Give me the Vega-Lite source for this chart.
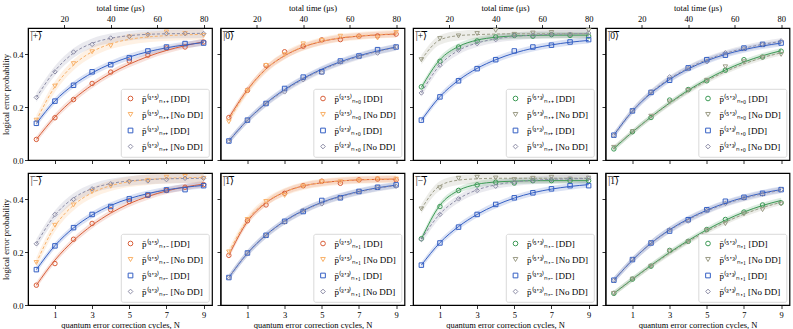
{
"$schema":"https://vega.github.io/schema/vega-lite/v6.json",
"padding":{"left":0,"top":2,"right":0,"bottom":0},
"config":{
 "font":"Liberation Serif",
 "view":{"stroke":"#000","strokeWidth":1.2},
 "axis":{"grid":false,"domainColor":"#000","domainWidth":1,"tickColor":"#000","tickSize":3.5,"tickWidth":0.8,"labelColor":"#000","labelFontSize":8.5,"labelFont":"Liberation Serif","labelPadding":1.5,"titleColor":"#000","titleFont":"Liberation Serif","titleFontSize":8.5,"titleFontWeight":"normal","titlePadding":2,"labelFlush":false,"labelOverlap":false},
 "legend":{"orient":"bottom-right","offset":3,"fillColor":"#fff","strokeColor":"#d0d0d0","strokeWidth":0.8,"cornerRadius":2,"padding":5,"labelFont":"Liberation Serif","labelFontSize":9,"labelColor":"#000","symbolSize":22,"symbolStrokeWidth":1,"rowPadding":6,"labelLimit":200,"labelOffset":7},
 "text":{"font":"Liberation Serif"}
},
"data":{"values":[
{"P":1,"s":"a","N":0,"p":0.078,"f":0.078,"lo":0.066,"hi":0.09},
{"P":1,"s":"a","N":1,"p":0.16,"f":0.163,"lo":0.151,"hi":0.175},
{"P":1,"s":"a","N":2,"p":0.229,"f":0.23,"lo":0.218,"hi":0.242},
{"P":1,"s":"a","N":3,"p":0.29,"f":0.284,"lo":0.272,"hi":0.296},
{"P":1,"s":"a","N":4,"p":0.333,"f":0.328,"lo":0.316,"hi":0.34},
{"P":1,"s":"a","N":5,"p":0.375,"f":0.363,"lo":0.351,"hi":0.375},
{"P":1,"s":"a","N":6,"p":0.397,"f":0.392,"lo":0.38,"hi":0.404},
{"P":1,"s":"a","N":7,"p":0.424,"f":0.415,"lo":0.403,"hi":0.427},
{"P":1,"s":"a","N":8,"p":0.428,"f":0.433,"lo":0.421,"hi":0.445},
{"P":1,"s":"a","N":9,"p":0.447,"f":0.448,"lo":0.436,"hi":0.46},
{"P":1,"s":"b","N":0,"p":0.151,"f":0.15,"lo":0.13,"hi":0.17},
{"P":1,"s":"b","N":1,"p":0.28,"f":0.278,"lo":0.258,"hi":0.298},
{"P":1,"s":"b","N":2,"p":0.365,"f":0.36,"lo":0.34,"hi":0.38},
{"P":1,"s":"b","N":3,"p":0.41,"f":0.41,"lo":0.39,"hi":0.43},
{"P":1,"s":"b","N":4,"p":0.433,"f":0.44,"lo":0.42,"hi":0.46},
{"P":1,"s":"b","N":5,"p":0.466,"f":0.457,"lo":0.437,"hi":0.477},
{"P":1,"s":"b","N":6,"p":0.472,"f":0.466,"lo":0.446,"hi":0.486},
{"P":1,"s":"b","N":7,"p":0.485,"f":0.471,"lo":0.451,"hi":0.491},
{"P":1,"s":"b","N":8,"p":0.479,"f":0.474,"lo":0.454,"hi":0.494},
{"P":1,"s":"b","N":9,"p":0.472,"f":0.476,"lo":0.456,"hi":0.496},
{"P":1,"s":"c","N":0,"p":0.139,"f":0.138,"lo":0.126,"hi":0.15},
{"P":1,"s":"c","N":1,"p":0.223,"f":0.224,"lo":0.212,"hi":0.236},
{"P":1,"s":"c","N":2,"p":0.283,"f":0.285,"lo":0.273,"hi":0.297},
{"P":1,"s":"c","N":3,"p":0.334,"f":0.33,"lo":0.318,"hi":0.342},
{"P":1,"s":"c","N":4,"p":0.361,"f":0.364,"lo":0.352,"hi":0.376},
{"P":1,"s":"c","N":5,"p":0.387,"f":0.39,"lo":0.378,"hi":0.402},
{"P":1,"s":"c","N":6,"p":0.413,"f":0.41,"lo":0.398,"hi":0.422},
{"P":1,"s":"c","N":7,"p":0.428,"f":0.425,"lo":0.413,"hi":0.437},
{"P":1,"s":"c","N":8,"p":0.441,"f":0.436,"lo":0.424,"hi":0.448},
{"P":1,"s":"c","N":9,"p":0.443,"f":0.445,"lo":0.433,"hi":0.457},
{"P":1,"s":"d","N":0,"p":0.237,"f":0.237,"lo":0.219,"hi":0.255},
{"P":1,"s":"d","N":1,"p":0.334,"f":0.338,"lo":0.32,"hi":0.356},
{"P":1,"s":"d","N":2,"p":0.409,"f":0.405,"lo":0.387,"hi":0.423},
{"P":1,"s":"d","N":3,"p":0.438,"f":0.442,"lo":0.424,"hi":0.46},
{"P":1,"s":"d","N":4,"p":0.462,"f":0.461,"lo":0.443,"hi":0.479},
{"P":1,"s":"d","N":5,"p":0.468,"f":0.471,"lo":0.453,"hi":0.489},
{"P":1,"s":"d","N":6,"p":0.476,"f":0.476,"lo":0.458,"hi":0.494},
{"P":1,"s":"d","N":7,"p":0.479,"f":0.478,"lo":0.46,"hi":0.496},
{"P":1,"s":"d","N":8,"p":0.479,"f":0.479,"lo":0.461,"hi":0.497},
{"P":1,"s":"d","N":9,"p":0.479,"f":0.48,"lo":0.462,"hi":0.498},
{"P":2,"s":"a","N":0,"p":0.161,"f":0.16,"lo":0.148,"hi":0.172},
{"P":2,"s":"a","N":1,"p":0.264,"f":0.266,"lo":0.254,"hi":0.278},
{"P":2,"s":"a","N":2,"p":0.358,"f":0.345,"lo":0.333,"hi":0.357},
{"P":2,"s":"a","N":3,"p":0.41,"f":0.395,"lo":0.383,"hi":0.407},
{"P":2,"s":"a","N":4,"p":0.431,"f":0.428,"lo":0.416,"hi":0.44},
{"P":2,"s":"a","N":5,"p":0.455,"f":0.449,"lo":0.437,"hi":0.461},
{"P":2,"s":"a","N":6,"p":0.456,"f":0.462,"lo":0.45,"hi":0.474},
{"P":2,"s":"a","N":7,"p":0.469,"f":0.469,"lo":0.457,"hi":0.481},
{"P":2,"s":"a","N":8,"p":0.47,"f":0.474,"lo":0.462,"hi":0.486},
{"P":2,"s":"a","N":9,"p":0.477,"f":0.477,"lo":0.465,"hi":0.489},
{"P":2,"s":"b","N":0,"p":0.145,"f":0.15,"lo":0.135,"hi":0.165},
{"P":2,"s":"b","N":1,"p":0.262,"f":0.263,"lo":0.248,"hi":0.278},
{"P":2,"s":"b","N":2,"p":0.358,"f":0.344,"lo":0.329,"hi":0.359},
{"P":2,"s":"b","N":3,"p":0.399,"f":0.396,"lo":0.381,"hi":0.411},
{"P":2,"s":"b","N":4,"p":0.44,"f":0.429,"lo":0.414,"hi":0.444},
{"P":2,"s":"b","N":5,"p":0.453,"f":0.45,"lo":0.435,"hi":0.465},
{"P":2,"s":"b","N":6,"p":0.469,"f":0.463,"lo":0.448,"hi":0.478},
{"P":2,"s":"b","N":7,"p":0.466,"f":0.47,"lo":0.455,"hi":0.485},
{"P":2,"s":"b","N":8,"p":0.462,"f":0.475,"lo":0.46,"hi":0.49},
{"P":2,"s":"b","N":9,"p":0.483,"f":0.478,"lo":0.463,"hi":0.493},
{"P":2,"s":"c","N":0,"p":0.072,"f":0.072,"lo":0.06,"hi":0.084},
{"P":2,"s":"c","N":1,"p":0.151,"f":0.151,"lo":0.139,"hi":0.163},
{"P":2,"s":"c","N":2,"p":0.214,"f":0.215,"lo":0.203,"hi":0.227},
{"P":2,"s":"c","N":3,"p":0.271,"f":0.267,"lo":0.255,"hi":0.279},
{"P":2,"s":"c","N":4,"p":0.314,"f":0.309,"lo":0.297,"hi":0.321},
{"P":2,"s":"c","N":5,"p":0.334,"f":0.344,"lo":0.332,"hi":0.356},
{"P":2,"s":"c","N":6,"p":0.375,"f":0.372,"lo":0.36,"hi":0.384},
{"P":2,"s":"c","N":7,"p":0.394,"f":0.395,"lo":0.383,"hi":0.407},
{"P":2,"s":"c","N":8,"p":0.418,"f":0.413,"lo":0.401,"hi":0.425},
{"P":2,"s":"c","N":9,"p":0.428,"f":0.428,"lo":0.416,"hi":0.44},
{"P":2,"s":"d","N":0,"p":0.072,"f":0.072,"lo":0.06,"hi":0.084},
{"P":2,"s":"d","N":1,"p":0.151,"f":0.15,"lo":0.138,"hi":0.162},
{"P":2,"s":"d","N":2,"p":0.214,"f":0.213,"lo":0.201,"hi":0.225},
{"P":2,"s":"d","N":3,"p":0.258,"f":0.264,"lo":0.252,"hi":0.276},
{"P":2,"s":"d","N":4,"p":0.304,"f":0.306,"lo":0.294,"hi":0.318},
{"P":2,"s":"d","N":5,"p":0.331,"f":0.341,"lo":0.329,"hi":0.353},
{"P":2,"s":"d","N":6,"p":0.371,"f":0.369,"lo":0.357,"hi":0.381},
{"P":2,"s":"d","N":7,"p":0.392,"f":0.392,"lo":0.38,"hi":0.404},
{"P":2,"s":"d","N":8,"p":0.405,"f":0.411,"lo":0.399,"hi":0.423},
{"P":2,"s":"d","N":9,"p":0.428,"f":0.426,"lo":0.414,"hi":0.438},
{"P":3,"s":"a","N":0,"p":0.277,"f":0.275,"lo":0.263,"hi":0.287},
{"P":3,"s":"a","N":1,"p":0.374,"f":0.38,"lo":0.368,"hi":0.392},
{"P":3,"s":"a","N":2,"p":0.428,"f":0.43,"lo":0.418,"hi":0.442},
{"P":3,"s":"a","N":3,"p":0.451,"f":0.454,"lo":0.442,"hi":0.466},
{"P":3,"s":"a","N":4,"p":0.466,"f":0.465,"lo":0.453,"hi":0.477},
{"P":3,"s":"a","N":5,"p":0.472,"f":0.47,"lo":0.458,"hi":0.482},
{"P":3,"s":"a","N":6,"p":0.469,"f":0.472,"lo":0.46,"hi":0.484},
{"P":3,"s":"a","N":7,"p":0.475,"f":0.473,"lo":0.461,"hi":0.485},
{"P":3,"s":"a","N":8,"p":0.472,"f":0.473,"lo":0.461,"hi":0.485},
{"P":3,"s":"a","N":9,"p":0.469,"f":0.473,"lo":0.461,"hi":0.485},
{"P":3,"s":"b","N":0,"p":0.38,"f":0.38,"lo":0.362,"hi":0.398},
{"P":3,"s":"b","N":1,"p":0.46,"f":0.455,"lo":0.437,"hi":0.473},
{"P":3,"s":"b","N":2,"p":0.47,"f":0.471,"lo":0.453,"hi":0.489},
{"P":3,"s":"b","N":3,"p":0.479,"f":0.475,"lo":0.457,"hi":0.493},
{"P":3,"s":"b","N":4,"p":0.491,"f":0.477,"lo":0.459,"hi":0.495},
{"P":3,"s":"b","N":5,"p":0.476,"f":0.478,"lo":0.46,"hi":0.496},
{"P":3,"s":"b","N":6,"p":0.481,"f":0.478,"lo":0.46,"hi":0.496},
{"P":3,"s":"b","N":7,"p":0.483,"f":0.478,"lo":0.46,"hi":0.496},
{"P":3,"s":"b","N":8,"p":0.474,"f":0.478,"lo":0.46,"hi":0.496},
{"P":3,"s":"b","N":9,"p":0.491,"f":0.478,"lo":0.46,"hi":0.496},
{"P":3,"s":"c","N":0,"p":0.151,"f":0.15,"lo":0.138,"hi":0.162},
{"P":3,"s":"c","N":1,"p":0.239,"f":0.24,"lo":0.228,"hi":0.252},
{"P":3,"s":"c","N":2,"p":0.3,"f":0.302,"lo":0.29,"hi":0.314},
{"P":3,"s":"c","N":3,"p":0.346,"f":0.347,"lo":0.335,"hi":0.359},
{"P":3,"s":"c","N":4,"p":0.38,"f":0.38,"lo":0.368,"hi":0.392},
{"P":3,"s":"c","N":5,"p":0.413,"f":0.405,"lo":0.393,"hi":0.417},
{"P":3,"s":"c","N":6,"p":0.428,"f":0.423,"lo":0.411,"hi":0.435},
{"P":3,"s":"c","N":7,"p":0.435,"f":0.436,"lo":0.424,"hi":0.448},
{"P":3,"s":"c","N":8,"p":0.447,"f":0.446,"lo":0.434,"hi":0.458},
{"P":3,"s":"c","N":9,"p":0.456,"f":0.453,"lo":0.441,"hi":0.465},
{"P":3,"s":"d","N":0,"p":0.254,"f":0.255,"lo":0.24,"hi":0.27},
{"P":3,"s":"d","N":1,"p":0.359,"f":0.36,"lo":0.345,"hi":0.375},
{"P":3,"s":"d","N":2,"p":0.416,"f":0.415,"lo":0.4,"hi":0.43},
{"P":3,"s":"d","N":3,"p":0.441,"f":0.443,"lo":0.428,"hi":0.458},
{"P":3,"s":"d","N":4,"p":0.456,"f":0.459,"lo":0.444,"hi":0.474},
{"P":3,"s":"d","N":5,"p":0.472,"f":0.468,"lo":0.453,"hi":0.483},
{"P":3,"s":"d","N":6,"p":0.472,"f":0.473,"lo":0.458,"hi":0.488},
{"P":3,"s":"d","N":7,"p":0.475,"f":0.476,"lo":0.461,"hi":0.491},
{"P":3,"s":"d","N":8,"p":0.476,"f":0.478,"lo":0.463,"hi":0.493},
{"P":3,"s":"d","N":9,"p":0.481,"f":0.479,"lo":0.464,"hi":0.494},
{"P":4,"s":"a","N":0,"p":0.042,"f":0.043,"lo":0.033,"hi":0.053},
{"P":4,"s":"a","N":1,"p":0.107,"f":0.106,"lo":0.096,"hi":0.116},
{"P":4,"s":"a","N":2,"p":0.161,"f":0.163,"lo":0.153,"hi":0.173},
{"P":4,"s":"a","N":3,"p":0.227,"f":0.216,"lo":0.206,"hi":0.226},
{"P":4,"s":"a","N":4,"p":0.267,"f":0.264,"lo":0.254,"hi":0.274},
{"P":4,"s":"a","N":5,"p":0.3,"f":0.305,"lo":0.295,"hi":0.315},
{"P":4,"s":"a","N":6,"p":0.34,"f":0.341,"lo":0.331,"hi":0.351},
{"P":4,"s":"a","N":7,"p":0.38,"f":0.371,"lo":0.361,"hi":0.381},
{"P":4,"s":"a","N":8,"p":0.39,"f":0.395,"lo":0.385,"hi":0.405},
{"P":4,"s":"a","N":9,"p":0.412,"f":0.414,"lo":0.404,"hi":0.424},
{"P":4,"s":"b","N":0,"p":0.048,"f":0.046,"lo":0.036,"hi":0.056},
{"P":4,"s":"b","N":1,"p":0.107,"f":0.106,"lo":0.096,"hi":0.116},
{"P":4,"s":"b","N":2,"p":0.166,"f":0.162,"lo":0.152,"hi":0.172},
{"P":4,"s":"b","N":3,"p":0.22,"f":0.214,"lo":0.204,"hi":0.224},
{"P":4,"s":"b","N":4,"p":0.264,"f":0.26,"lo":0.25,"hi":0.27},
{"P":4,"s":"b","N":5,"p":0.302,"f":0.3,"lo":0.29,"hi":0.31},
{"P":4,"s":"b","N":6,"p":0.353,"f":0.335,"lo":0.325,"hi":0.345},
{"P":4,"s":"b","N":7,"p":0.372,"f":0.364,"lo":0.354,"hi":0.374},
{"P":4,"s":"b","N":8,"p":0.388,"f":0.388,"lo":0.378,"hi":0.398},
{"P":4,"s":"b","N":9,"p":0.4,"f":0.406,"lo":0.396,"hi":0.416},
{"P":4,"s":"c","N":0,"p":0.094,"f":0.094,"lo":0.082,"hi":0.106},
{"P":4,"s":"c","N":1,"p":0.186,"f":0.185,"lo":0.173,"hi":0.197},
{"P":4,"s":"c","N":2,"p":0.256,"f":0.253,"lo":0.241,"hi":0.265},
{"P":4,"s":"c","N":3,"p":0.302,"f":0.305,"lo":0.293,"hi":0.317},
{"P":4,"s":"c","N":4,"p":0.349,"f":0.345,"lo":0.333,"hi":0.357},
{"P":4,"s":"c","N":5,"p":0.38,"f":0.376,"lo":0.364,"hi":0.388},
{"P":4,"s":"c","N":6,"p":0.397,"f":0.4,"lo":0.388,"hi":0.412},
{"P":4,"s":"c","N":7,"p":0.424,"f":0.418,"lo":0.406,"hi":0.43},
{"P":4,"s":"c","N":8,"p":0.438,"f":0.432,"lo":0.42,"hi":0.444},
{"P":4,"s":"c","N":9,"p":0.443,"f":0.443,"lo":0.431,"hi":0.455},
{"P":4,"s":"d","N":0,"p":0.094,"f":0.094,"lo":0.082,"hi":0.106},
{"P":4,"s":"d","N":1,"p":0.186,"f":0.186,"lo":0.174,"hi":0.198},
{"P":4,"s":"d","N":2,"p":0.258,"f":0.256,"lo":0.244,"hi":0.268},
{"P":4,"s":"d","N":3,"p":0.315,"f":0.308,"lo":0.296,"hi":0.32},
{"P":4,"s":"d","N":4,"p":0.346,"f":0.348,"lo":0.336,"hi":0.36},
{"P":4,"s":"d","N":5,"p":0.372,"f":0.38,"lo":0.368,"hi":0.392},
{"P":4,"s":"d","N":6,"p":0.406,"f":0.404,"lo":0.392,"hi":0.416},
{"P":4,"s":"d","N":7,"p":0.422,"f":0.423,"lo":0.411,"hi":0.435},
{"P":4,"s":"d","N":8,"p":0.438,"f":0.438,"lo":0.426,"hi":0.45},
{"P":4,"s":"d","N":9,"p":0.451,"f":0.449,"lo":0.437,"hi":0.461},
{"P":5,"s":"a","N":0,"p":0.075,"f":0.075,"lo":0.063,"hi":0.087},
{"P":5,"s":"a","N":1,"p":0.157,"f":0.17,"lo":0.158,"hi":0.182},
{"P":5,"s":"a","N":2,"p":0.249,"f":0.244,"lo":0.232,"hi":0.256},
{"P":5,"s":"a","N":3,"p":0.309,"f":0.302,"lo":0.29,"hi":0.314},
{"P":5,"s":"a","N":4,"p":0.361,"f":0.348,"lo":0.336,"hi":0.36},
{"P":5,"s":"a","N":5,"p":0.392,"f":0.384,"lo":0.372,"hi":0.396},
{"P":5,"s":"a","N":6,"p":0.415,"f":0.411,"lo":0.399,"hi":0.423},
{"P":5,"s":"a","N":7,"p":0.434,"f":0.432,"lo":0.42,"hi":0.444},
{"P":5,"s":"a","N":8,"p":0.446,"f":0.447,"lo":0.435,"hi":0.459},
{"P":5,"s":"a","N":9,"p":0.456,"f":0.458,"lo":0.446,"hi":0.47},
{"P":5,"s":"b","N":0,"p":0.161,"f":0.16,"lo":0.14,"hi":0.18},
{"P":5,"s":"b","N":1,"p":0.302,"f":0.298,"lo":0.278,"hi":0.318},
{"P":5,"s":"b","N":2,"p":0.379,"f":0.378,"lo":0.358,"hi":0.398},
{"P":5,"s":"b","N":3,"p":0.43,"f":0.425,"lo":0.405,"hi":0.445},
{"P":5,"s":"b","N":4,"p":0.45,"f":0.452,"lo":0.432,"hi":0.472},
{"P":5,"s":"b","N":5,"p":0.465,"f":0.467,"lo":0.447,"hi":0.487},
{"P":5,"s":"b","N":6,"p":0.472,"f":0.475,"lo":0.455,"hi":0.495},
{"P":5,"s":"b","N":7,"p":0.484,"f":0.48,"lo":0.46,"hi":0.5},
{"P":5,"s":"b","N":8,"p":0.487,"f":0.482,"lo":0.462,"hi":0.5},
{"P":5,"s":"b","N":9,"p":0.48,"f":0.483,"lo":0.463,"hi":0.5},
{"P":5,"s":"c","N":0,"p":0.134,"f":0.134,"lo":0.122,"hi":0.146},
{"P":5,"s":"c","N":1,"p":0.224,"f":0.225,"lo":0.213,"hi":0.237},
{"P":5,"s":"c","N":2,"p":0.293,"f":0.292,"lo":0.28,"hi":0.304},
{"P":5,"s":"c","N":3,"p":0.343,"f":0.341,"lo":0.329,"hi":0.353},
{"P":5,"s":"c","N":4,"p":0.373,"f":0.377,"lo":0.365,"hi":0.389},
{"P":5,"s":"c","N":5,"p":0.402,"f":0.403,"lo":0.391,"hi":0.415},
{"P":5,"s":"c","N":6,"p":0.417,"f":0.422,"lo":0.41,"hi":0.434},
{"P":5,"s":"c","N":7,"p":0.436,"f":0.436,"lo":0.424,"hi":0.448},
{"P":5,"s":"c","N":8,"p":0.437,"f":0.446,"lo":0.434,"hi":0.458},
{"P":5,"s":"c","N":9,"p":0.452,"f":0.453,"lo":0.441,"hi":0.465},
{"P":5,"s":"d","N":0,"p":0.232,"f":0.232,"lo":0.214,"hi":0.25},
{"P":5,"s":"d","N":1,"p":0.343,"f":0.34,"lo":0.322,"hi":0.358},
{"P":5,"s":"d","N":2,"p":0.4,"f":0.405,"lo":0.387,"hi":0.423},
{"P":5,"s":"d","N":3,"p":0.44,"f":0.441,"lo":0.423,"hi":0.459},
{"P":5,"s":"d","N":4,"p":0.459,"f":0.46,"lo":0.442,"hi":0.478},
{"P":5,"s":"d","N":5,"p":0.469,"f":0.47,"lo":0.452,"hi":0.488},
{"P":5,"s":"d","N":6,"p":0.47,"f":0.475,"lo":0.457,"hi":0.493},
{"P":5,"s":"d","N":7,"p":0.475,"f":0.478,"lo":0.46,"hi":0.496},
{"P":5,"s":"d","N":8,"p":0.48,"f":0.479,"lo":0.461,"hi":0.497},
{"P":5,"s":"d","N":9,"p":0.48,"f":0.48,"lo":0.462,"hi":0.498},
{"P":6,"s":"a","N":0,"p":0.188,"f":0.188,"lo":0.176,"hi":0.2},
{"P":6,"s":"a","N":1,"p":0.319,"f":0.316,"lo":0.304,"hi":0.328},
{"P":6,"s":"a","N":2,"p":0.379,"f":0.387,"lo":0.375,"hi":0.399},
{"P":6,"s":"a","N":3,"p":0.423,"f":0.428,"lo":0.416,"hi":0.44},
{"P":6,"s":"a","N":4,"p":0.452,"f":0.451,"lo":0.439,"hi":0.463},
{"P":6,"s":"a","N":5,"p":0.469,"f":0.463,"lo":0.451,"hi":0.475},
{"P":6,"s":"a","N":6,"p":0.461,"f":0.47,"lo":0.458,"hi":0.482},
{"P":6,"s":"a","N":7,"p":0.474,"f":0.474,"lo":0.462,"hi":0.486},
{"P":6,"s":"a","N":8,"p":0.477,"f":0.476,"lo":0.464,"hi":0.488},
{"P":6,"s":"a","N":9,"p":0.474,"f":0.477,"lo":0.465,"hi":0.489},
{"P":6,"s":"b","N":0,"p":0.201,"f":0.2,"lo":0.185,"hi":0.215},
{"P":6,"s":"b","N":1,"p":0.324,"f":0.322,"lo":0.307,"hi":0.337},
{"P":6,"s":"b","N":2,"p":0.392,"f":0.39,"lo":0.375,"hi":0.405},
{"P":6,"s":"b","N":3,"p":0.415,"f":0.428,"lo":0.413,"hi":0.443},
{"P":6,"s":"b","N":4,"p":0.45,"f":0.451,"lo":0.436,"hi":0.466},
{"P":6,"s":"b","N":5,"p":0.467,"f":0.463,"lo":0.448,"hi":0.478},
{"P":6,"s":"b","N":6,"p":0.467,"f":0.47,"lo":0.455,"hi":0.485},
{"P":6,"s":"b","N":7,"p":0.471,"f":0.474,"lo":0.459,"hi":0.489},
{"P":6,"s":"b","N":8,"p":0.477,"f":0.476,"lo":0.461,"hi":0.491},
{"P":6,"s":"b","N":9,"p":0.477,"f":0.477,"lo":0.462,"hi":0.492},
{"P":6,"s":"c","N":0,"p":0.104,"f":0.104,"lo":0.092,"hi":0.116},
{"P":6,"s":"c","N":1,"p":0.197,"f":0.196,"lo":0.184,"hi":0.208},
{"P":6,"s":"c","N":2,"p":0.264,"f":0.265,"lo":0.253,"hi":0.277},
{"P":6,"s":"c","N":3,"p":0.317,"f":0.318,"lo":0.306,"hi":0.33},
{"P":6,"s":"c","N":4,"p":0.354,"f":0.358,"lo":0.346,"hi":0.37},
{"P":6,"s":"c","N":5,"p":0.396,"f":0.389,"lo":0.377,"hi":0.401},
{"P":6,"s":"c","N":6,"p":0.406,"f":0.412,"lo":0.4,"hi":0.424},
{"P":6,"s":"c","N":7,"p":0.43,"f":0.43,"lo":0.418,"hi":0.442},
{"P":6,"s":"c","N":8,"p":0.446,"f":0.444,"lo":0.432,"hi":0.456},
{"P":6,"s":"c","N":9,"p":0.455,"f":0.454,"lo":0.442,"hi":0.466},
{"P":6,"s":"d","N":0,"p":0.104,"f":0.104,"lo":0.092,"hi":0.116},
{"P":6,"s":"d","N":1,"p":0.197,"f":0.196,"lo":0.184,"hi":0.208},
{"P":6,"s":"d","N":2,"p":0.264,"f":0.264,"lo":0.252,"hi":0.276},
{"P":6,"s":"d","N":3,"p":0.314,"f":0.316,"lo":0.304,"hi":0.328},
{"P":6,"s":"d","N":4,"p":0.358,"f":0.356,"lo":0.344,"hi":0.368},
{"P":6,"s":"d","N":5,"p":0.383,"f":0.387,"lo":0.375,"hi":0.399},
{"P":6,"s":"d","N":6,"p":0.406,"f":0.41,"lo":0.398,"hi":0.422},
{"P":6,"s":"d","N":7,"p":0.43,"f":0.428,"lo":0.416,"hi":0.44},
{"P":6,"s":"d","N":8,"p":0.446,"f":0.442,"lo":0.43,"hi":0.454},
{"P":6,"s":"d","N":9,"p":0.45,"f":0.452,"lo":0.44,"hi":0.464},
{"P":7,"s":"a","N":0,"p":0.251,"f":0.25,"lo":0.238,"hi":0.262},
{"P":7,"s":"a","N":1,"p":0.373,"f":0.378,"lo":0.366,"hi":0.39},
{"P":7,"s":"a","N":2,"p":0.434,"f":0.434,"lo":0.422,"hi":0.446},
{"P":7,"s":"a","N":3,"p":0.455,"f":0.457,"lo":0.445,"hi":0.469},
{"P":7,"s":"a","N":4,"p":0.465,"f":0.466,"lo":0.454,"hi":0.478},
{"P":7,"s":"a","N":5,"p":0.462,"f":0.469,"lo":0.457,"hi":0.481},
{"P":7,"s":"a","N":6,"p":0.471,"f":0.471,"lo":0.459,"hi":0.483},
{"P":7,"s":"a","N":7,"p":0.471,"f":0.471,"lo":0.459,"hi":0.483},
{"P":7,"s":"a","N":8,"p":0.471,"f":0.471,"lo":0.459,"hi":0.483},
{"P":7,"s":"a","N":9,"p":0.471,"f":0.471,"lo":0.459,"hi":0.483},
{"P":7,"s":"b","N":0,"p":0.364,"f":0.364,"lo":0.346,"hi":0.382},
{"P":7,"s":"b","N":1,"p":0.444,"f":0.452,"lo":0.434,"hi":0.47},
{"P":7,"s":"b","N":2,"p":0.48,"f":0.473,"lo":0.455,"hi":0.491},
{"P":7,"s":"b","N":3,"p":0.484,"f":0.478,"lo":0.46,"hi":0.496},
{"P":7,"s":"b","N":4,"p":0.481,"f":0.48,"lo":0.462,"hi":0.498},
{"P":7,"s":"b","N":5,"p":0.475,"f":0.48,"lo":0.462,"hi":0.498},
{"P":7,"s":"b","N":6,"p":0.48,"f":0.48,"lo":0.462,"hi":0.498},
{"P":7,"s":"b","N":7,"p":0.484,"f":0.48,"lo":0.462,"hi":0.498},
{"P":7,"s":"b","N":8,"p":0.477,"f":0.48,"lo":0.462,"hi":0.498},
{"P":7,"s":"b","N":9,"p":0.481,"f":0.48,"lo":0.462,"hi":0.498},
{"P":7,"s":"c","N":0,"p":0.151,"f":0.151,"lo":0.139,"hi":0.163},
{"P":7,"s":"c","N":1,"p":0.235,"f":0.236,"lo":0.224,"hi":0.248},
{"P":7,"s":"c","N":2,"p":0.295,"f":0.297,"lo":0.285,"hi":0.309},
{"P":7,"s":"c","N":3,"p":0.343,"f":0.343,"lo":0.331,"hi":0.355},
{"P":7,"s":"c","N":4,"p":0.381,"f":0.378,"lo":0.366,"hi":0.39},
{"P":7,"s":"c","N":5,"p":0.406,"f":0.405,"lo":0.393,"hi":0.417},
{"P":7,"s":"c","N":6,"p":0.425,"f":0.425,"lo":0.413,"hi":0.437},
{"P":7,"s":"c","N":7,"p":0.44,"f":0.439,"lo":0.427,"hi":0.451},
{"P":7,"s":"c","N":8,"p":0.452,"f":0.449,"lo":0.437,"hi":0.461},
{"P":7,"s":"c","N":9,"p":0.452,"f":0.456,"lo":0.444,"hi":0.468},
{"P":7,"s":"d","N":0,"p":0.249,"f":0.249,"lo":0.234,"hi":0.264},
{"P":7,"s":"d","N":1,"p":0.343,"f":0.345,"lo":0.33,"hi":0.36},
{"P":7,"s":"d","N":2,"p":0.402,"f":0.402,"lo":0.387,"hi":0.417},
{"P":7,"s":"d","N":3,"p":0.434,"f":0.436,"lo":0.421,"hi":0.451},
{"P":7,"s":"d","N":4,"p":0.45,"f":0.455,"lo":0.44,"hi":0.47},
{"P":7,"s":"d","N":5,"p":0.465,"f":0.466,"lo":0.451,"hi":0.481},
{"P":7,"s":"d","N":6,"p":0.471,"f":0.472,"lo":0.457,"hi":0.487},
{"P":7,"s":"d","N":7,"p":0.475,"f":0.476,"lo":0.461,"hi":0.491},
{"P":7,"s":"d","N":8,"p":0.477,"f":0.478,"lo":0.463,"hi":0.493},
{"P":7,"s":"d","N":9,"p":0.48,"f":0.479,"lo":0.464,"hi":0.494},
{"P":8,"s":"a","N":0,"p":0.044,"f":0.044,"lo":0.034,"hi":0.054},
{"P":8,"s":"a","N":1,"p":0.098,"f":0.098,"lo":0.088,"hi":0.108},
{"P":8,"s":"a","N":2,"p":0.147,"f":0.15,"lo":0.14,"hi":0.16},
{"P":8,"s":"a","N":3,"p":0.207,"f":0.199,"lo":0.189,"hi":0.209},
{"P":8,"s":"a","N":4,"p":0.241,"f":0.244,"lo":0.234,"hi":0.254},
{"P":8,"s":"a","N":5,"p":0.286,"f":0.285,"lo":0.275,"hi":0.295},
{"P":8,"s":"a","N":6,"p":0.324,"f":0.321,"lo":0.311,"hi":0.331},
{"P":8,"s":"a","N":7,"p":0.352,"f":0.352,"lo":0.342,"hi":0.362},
{"P":8,"s":"a","N":8,"p":0.379,"f":0.377,"lo":0.367,"hi":0.387},
{"P":8,"s":"a","N":9,"p":0.387,"f":0.396,"lo":0.386,"hi":0.406},
{"P":8,"s":"b","N":0,"p":0.044,"f":0.044,"lo":0.034,"hi":0.054},
{"P":8,"s":"b","N":1,"p":0.098,"f":0.097,"lo":0.087,"hi":0.107},
{"P":8,"s":"b","N":2,"p":0.147,"f":0.148,"lo":0.138,"hi":0.158},
{"P":8,"s":"b","N":3,"p":0.204,"f":0.196,"lo":0.186,"hi":0.206},
{"P":8,"s":"b","N":4,"p":0.239,"f":0.24,"lo":0.23,"hi":0.25},
{"P":8,"s":"b","N":5,"p":0.283,"f":0.279,"lo":0.269,"hi":0.289},
{"P":8,"s":"b","N":6,"p":0.308,"f":0.314,"lo":0.304,"hi":0.324},
{"P":8,"s":"b","N":7,"p":0.345,"f":0.344,"lo":0.334,"hi":0.354},
{"P":8,"s":"b","N":8,"p":0.361,"f":0.369,"lo":0.359,"hi":0.379},
{"P":8,"s":"b","N":9,"p":0.383,"f":0.389,"lo":0.379,"hi":0.399},
{"P":8,"s":"c","N":0,"p":0.094,"f":0.094,"lo":0.082,"hi":0.106},
{"P":8,"s":"c","N":1,"p":0.172,"f":0.17,"lo":0.158,"hi":0.182},
{"P":8,"s":"c","N":2,"p":0.235,"f":0.234,"lo":0.222,"hi":0.246},
{"P":8,"s":"c","N":3,"p":0.28,"f":0.285,"lo":0.273,"hi":0.297},
{"P":8,"s":"c","N":4,"p":0.323,"f":0.326,"lo":0.314,"hi":0.338},
{"P":8,"s":"c","N":5,"p":0.361,"f":0.359,"lo":0.347,"hi":0.371},
{"P":8,"s":"c","N":6,"p":0.393,"f":0.386,"lo":0.374,"hi":0.398},
{"P":8,"s":"c","N":7,"p":0.408,"f":0.407,"lo":0.395,"hi":0.419},
{"P":8,"s":"c","N":8,"p":0.423,"f":0.424,"lo":0.412,"hi":0.436},
{"P":8,"s":"c","N":9,"p":0.437,"f":0.437,"lo":0.425,"hi":0.449},
{"P":8,"s":"d","N":0,"p":0.094,"f":0.094,"lo":0.082,"hi":0.106},
{"P":8,"s":"d","N":1,"p":0.172,"f":0.17,"lo":0.158,"hi":0.182},
{"P":8,"s":"d","N":2,"p":0.235,"f":0.233,"lo":0.221,"hi":0.245},
{"P":8,"s":"d","N":3,"p":0.285,"f":0.283,"lo":0.271,"hi":0.295},
{"P":8,"s":"d","N":4,"p":0.318,"f":0.323,"lo":0.311,"hi":0.335},
{"P":8,"s":"d","N":5,"p":0.358,"f":0.356,"lo":0.344,"hi":0.368},
{"P":8,"s":"d","N":6,"p":0.385,"f":0.383,"lo":0.371,"hi":0.395},
{"P":8,"s":"d","N":7,"p":0.405,"f":0.404,"lo":0.392,"hi":0.416},
{"P":8,"s":"d","N":8,"p":0.42,"f":0.421,"lo":0.409,"hi":0.433},
{"P":8,"s":"d","N":9,"p":0.437,"f":0.435,"lo":0.423,"hi":0.447}
]},
"columns":4,
"spacing":{"row":13,"column":8.5},
"bounds":"flush",
"resolve":{"scale":{"color":"independent","shape":"independent"},"legend":{"color":"independent","shape":"independent"}},
"concat":[
 {"width":184,"height":132,"resolve":{"scale":{"x":"independent"}},"layer":[
  {"transform":[{"filter":"datum.P==1"}],"layer":[
   {"transform":[{"filter":"datum.s=='a'"}],"mark":{"type":"area","opacity":0.18,"interpolate":"monotone","clip":true,"color":"#d9603b"},"encoding":{"x":{"field":"N","type":"quantitative","scale":{"domain":[-0.45,9.45],"nice":false,"zero":false},"axis":{"values":[1,3,5,7,9],"labels":false,"title":null}},"y":{"field":"lo","type":"quantitative","scale":{"domain":[0,0.5],"nice":false,"zero":false},"axis":{"values":[0,0.1,0.2,0.3,0.4,0.5],"format":".1f","title":"logical error probability"}},"y2":{"field":"hi"}}},
   {"transform":[{"filter":"datum.s=='b'"}],"mark":{"type":"area","opacity":0.18,"interpolate":"monotone","clip":true,"color":"#f9b26a"},"encoding":{"x":{"field":"N","type":"quantitative"},"y":{"field":"lo","type":"quantitative"},"y2":{"field":"hi"}}},
   {"transform":[{"filter":"datum.s=='c'"}],"mark":{"type":"area","opacity":0.18,"interpolate":"monotone","clip":true,"color":"#3560c4"},"encoding":{"x":{"field":"N","type":"quantitative"},"y":{"field":"lo","type":"quantitative"},"y2":{"field":"hi"}}},
   {"transform":[{"filter":"datum.s=='d'"}],"mark":{"type":"area","opacity":0.18,"interpolate":"monotone","clip":true,"color":"#8c8ca6"},"encoding":{"x":{"field":"N","type":"quantitative"},"y":{"field":"lo","type":"quantitative"},"y2":{"field":"hi"}}},
   {"transform":[{"filter":"datum.s=='a'"}],"mark":{"type":"line","strokeWidth":1,"interpolate":"monotone","color":"#d9603b"},"encoding":{"x":{"field":"N","type":"quantitative"},"y":{"field":"f","type":"quantitative"}}},
   {"transform":[{"filter":"datum.s=='b'"}],"mark":{"type":"line","strokeWidth":1,"interpolate":"monotone","color":"#f9b26a","strokeDash":[3,2]},"encoding":{"x":{"field":"N","type":"quantitative"},"y":{"field":"f","type":"quantitative"}}},
   {"transform":[{"filter":"datum.s=='c'"}],"mark":{"type":"line","strokeWidth":1,"interpolate":"monotone","color":"#3560c4"},"encoding":{"x":{"field":"N","type":"quantitative"},"y":{"field":"f","type":"quantitative"}}},
   {"transform":[{"filter":"datum.s=='d'"}],"mark":{"type":"line","strokeWidth":1,"interpolate":"monotone","color":"#8c8ca6","strokeDash":[3,2]},"encoding":{"x":{"field":"N","type":"quantitative"},"y":{"field":"f","type":"quantitative"}}},
   {"mark":{"type":"point","filled":false,"size":20,"strokeWidth":1,"opacity":1},"encoding":{"x":{"field":"N","type":"quantitative"},"y":{"field":"p","type":"quantitative"},"color":{"field":"s","type":"nominal","scale":{"domain":["a","b","c","d"],"range":["#d9603b","#f9b26a","#3560c4","#8c8ca6"]},"legend":{"title":null,"labelExpr":"datum.label=='a'?'p̄⁽³ʼ⁵⁾ₙ,₊ [DD]':datum.label=='b'?'p̄⁽³ʼ⁵⁾ₙ,₊ [No DD]':datum.label=='c'?'p̄⁽³ʼ³⁾ₙ,₊ [DD]':'p̄⁽³ʼ³⁾ₙ,₊ [No DD]'"}},"shape":{"field":"s","type":"nominal","scale":{"domain":["a","b","c","d"],"range":["circle","triangle-down","square","diamond"]},"legend":{"title":null,"labelExpr":"datum.label=='a'?'p̄⁽³ʼ⁵⁾ₙ,₊ [DD]':datum.label=='b'?'p̄⁽³ʼ⁵⁾ₙ,₊ [No DD]':datum.label=='c'?'p̄⁽³ʼ³⁾ₙ,₊ [DD]':'p̄⁽³ʼ³⁾ₙ,₊ [No DD]'"}}}},
   {"data":{"values":[{"P":1,"N":-0.3,"p":0.488,"t":"|\u0305+\u0305\u27e9\u0305"}]},"mark":{"type":"text","align":"left","baseline":"top","fontSize":9.5},"encoding":{"x":{"field":"N","type":"quantitative"},"y":{"field":"p","type":"quantitative"},"text":{"field":"t"}}}
  ]},
  {"data":{"values":[{"t":20},{"t":40},{"t":60},{"t":80}]},"mark":{"type":"tick","opacity":0},"encoding":{"x":{"field":"t","type":"quantitative","scale":{"domain":[4.4,83.6],"nice":false,"zero":false},"axis":{"orient":"top","values":[20,40,60,80],"title":"total time (μs)"}}}}
 ]},
 {"width":184,"height":132,"resolve":{"scale":{"x":"independent"}},"layer":[
  {"transform":[{"filter":"datum.P==2"}],"layer":[
   {"transform":[{"filter":"datum.s=='a'"}],"mark":{"type":"area","opacity":0.18,"interpolate":"monotone","clip":true,"color":"#d9603b"},"encoding":{"x":{"field":"N","type":"quantitative","scale":{"domain":[-0.45,9.45],"nice":false,"zero":false},"axis":{"values":[1,3,5,7,9],"labels":false,"title":null}},"y":{"field":"lo","type":"quantitative","scale":{"domain":[0,0.5],"nice":false,"zero":false},"axis":{"values":[0,0.1,0.2,0.3,0.4,0.5],"labels":false,"title":null}},"y2":{"field":"hi"}}},
   {"transform":[{"filter":"datum.s=='b'"}],"mark":{"type":"area","opacity":0.18,"interpolate":"monotone","clip":true,"color":"#f9b26a"},"encoding":{"x":{"field":"N","type":"quantitative"},"y":{"field":"lo","type":"quantitative"},"y2":{"field":"hi"}}},
   {"transform":[{"filter":"datum.s=='c'"}],"mark":{"type":"area","opacity":0.18,"interpolate":"monotone","clip":true,"color":"#3560c4"},"encoding":{"x":{"field":"N","type":"quantitative"},"y":{"field":"lo","type":"quantitative"},"y2":{"field":"hi"}}},
   {"transform":[{"filter":"datum.s=='d'"}],"mark":{"type":"area","opacity":0.18,"interpolate":"monotone","clip":true,"color":"#8c8ca6"},"encoding":{"x":{"field":"N","type":"quantitative"},"y":{"field":"lo","type":"quantitative"},"y2":{"field":"hi"}}},
   {"transform":[{"filter":"datum.s=='a'"}],"mark":{"type":"line","strokeWidth":1,"interpolate":"monotone","color":"#d9603b"},"encoding":{"x":{"field":"N","type":"quantitative"},"y":{"field":"f","type":"quantitative"}}},
   {"transform":[{"filter":"datum.s=='b'"}],"mark":{"type":"line","strokeWidth":1,"interpolate":"monotone","color":"#f9b26a","strokeDash":[3,2]},"encoding":{"x":{"field":"N","type":"quantitative"},"y":{"field":"f","type":"quantitative"}}},
   {"transform":[{"filter":"datum.s=='c'"}],"mark":{"type":"line","strokeWidth":1,"interpolate":"monotone","color":"#3560c4"},"encoding":{"x":{"field":"N","type":"quantitative"},"y":{"field":"f","type":"quantitative"}}},
   {"transform":[{"filter":"datum.s=='d'"}],"mark":{"type":"line","strokeWidth":1,"interpolate":"monotone","color":"#8c8ca6","strokeDash":[3,2]},"encoding":{"x":{"field":"N","type":"quantitative"},"y":{"field":"f","type":"quantitative"}}},
   {"mark":{"type":"point","filled":false,"size":20,"strokeWidth":1,"opacity":1},"encoding":{"x":{"field":"N","type":"quantitative"},"y":{"field":"p","type":"quantitative"},"color":{"field":"s","type":"nominal","scale":{"domain":["a","b","c","d"],"range":["#d9603b","#f9b26a","#3560c4","#8c8ca6"]},"legend":{"title":null,"labelExpr":"datum.label=='a'?'p̄⁽³ʼ⁵⁾ₙ,₀ [DD]':datum.label=='b'?'p̄⁽³ʼ⁵⁾ₙ,₀ [No DD]':datum.label=='c'?'p̄⁽³ʼ³⁾ₙ,₀ [DD]':'p̄⁽³ʼ³⁾ₙ,₀ [No DD]'"}},"shape":{"field":"s","type":"nominal","scale":{"domain":["a","b","c","d"],"range":["circle","triangle-down","square","diamond"]},"legend":{"title":null,"labelExpr":"datum.label=='a'?'p̄⁽³ʼ⁵⁾ₙ,₀ [DD]':datum.label=='b'?'p̄⁽³ʼ⁵⁾ₙ,₀ [No DD]':datum.label=='c'?'p̄⁽³ʼ³⁾ₙ,₀ [DD]':'p̄⁽³ʼ³⁾ₙ,₀ [No DD]'"}}}},
   {"data":{"values":[{"P":2,"N":-0.3,"p":0.488,"t":"|\u0305\u0030\u0305\u27e9\u0305"}]},"mark":{"type":"text","align":"left","baseline":"top","fontSize":9.5},"encoding":{"x":{"field":"N","type":"quantitative"},"y":{"field":"p","type":"quantitative"},"text":{"field":"t"}}}
  ]},
  {"data":{"values":[{"t":20},{"t":40},{"t":60},{"t":80}]},"mark":{"type":"tick","opacity":0},"encoding":{"x":{"field":"t","type":"quantitative","scale":{"domain":[4.4,83.6],"nice":false,"zero":false},"axis":{"orient":"top","values":[20,40,60,80],"title":"total time (μs)"}}}}
 ]},
 {"width":184,"height":132,"resolve":{"scale":{"x":"independent"}},"layer":[
  {"transform":[{"filter":"datum.P==3"}],"layer":[
   {"transform":[{"filter":"datum.s=='a'"}],"mark":{"type":"area","opacity":0.18,"interpolate":"monotone","clip":true,"color":"#3d9a56"},"encoding":{"x":{"field":"N","type":"quantitative","scale":{"domain":[-0.45,9.45],"nice":false,"zero":false},"axis":{"values":[1,3,5,7,9],"labels":false,"title":null}},"y":{"field":"lo","type":"quantitative","scale":{"domain":[0,0.5],"nice":false,"zero":false},"axis":{"values":[0,0.1,0.2,0.3,0.4,0.5],"labels":false,"title":null}},"y2":{"field":"hi"}}},
   {"transform":[{"filter":"datum.s=='b'"}],"mark":{"type":"area","opacity":0.18,"interpolate":"monotone","clip":true,"color":"#9c9c86"},"encoding":{"x":{"field":"N","type":"quantitative"},"y":{"field":"lo","type":"quantitative"},"y2":{"field":"hi"}}},
   {"transform":[{"filter":"datum.s=='c'"}],"mark":{"type":"area","opacity":0.18,"interpolate":"monotone","clip":true,"color":"#3560c4"},"encoding":{"x":{"field":"N","type":"quantitative"},"y":{"field":"lo","type":"quantitative"},"y2":{"field":"hi"}}},
   {"transform":[{"filter":"datum.s=='d'"}],"mark":{"type":"area","opacity":0.18,"interpolate":"monotone","clip":true,"color":"#8c8ca6"},"encoding":{"x":{"field":"N","type":"quantitative"},"y":{"field":"lo","type":"quantitative"},"y2":{"field":"hi"}}},
   {"transform":[{"filter":"datum.s=='a'"}],"mark":{"type":"line","strokeWidth":1,"interpolate":"monotone","color":"#3d9a56"},"encoding":{"x":{"field":"N","type":"quantitative"},"y":{"field":"f","type":"quantitative"}}},
   {"transform":[{"filter":"datum.s=='b'"}],"mark":{"type":"line","strokeWidth":1,"interpolate":"monotone","color":"#9c9c86","strokeDash":[3,2]},"encoding":{"x":{"field":"N","type":"quantitative"},"y":{"field":"f","type":"quantitative"}}},
   {"transform":[{"filter":"datum.s=='c'"}],"mark":{"type":"line","strokeWidth":1,"interpolate":"monotone","color":"#3560c4"},"encoding":{"x":{"field":"N","type":"quantitative"},"y":{"field":"f","type":"quantitative"}}},
   {"transform":[{"filter":"datum.s=='d'"}],"mark":{"type":"line","strokeWidth":1,"interpolate":"monotone","color":"#8c8ca6","strokeDash":[3,2]},"encoding":{"x":{"field":"N","type":"quantitative"},"y":{"field":"f","type":"quantitative"}}},
   {"mark":{"type":"point","filled":false,"size":20,"strokeWidth":1,"opacity":1},"encoding":{"x":{"field":"N","type":"quantitative"},"y":{"field":"p","type":"quantitative"},"color":{"field":"s","type":"nominal","scale":{"domain":["a","b","c","d"],"range":["#3d9a56","#9c9c86","#3560c4","#8c8ca6"]},"legend":{"title":null,"labelExpr":"datum.label=='a'?'p̄⁽⁵ʼ³⁾ₙ,₊ [DD]':datum.label=='b'?'p̄⁽⁵ʼ³⁾ₙ,₊ [No DD]':datum.label=='c'?'p̄⁽³ʼ³⁾ₙ,₊ [DD]':'p̄⁽³ʼ³⁾ₙ,₊ [No DD]'"}},"shape":{"field":"s","type":"nominal","scale":{"domain":["a","b","c","d"],"range":["circle","triangle-down","square","diamond"]},"legend":{"title":null,"labelExpr":"datum.label=='a'?'p̄⁽⁵ʼ³⁾ₙ,₊ [DD]':datum.label=='b'?'p̄⁽⁵ʼ³⁾ₙ,₊ [No DD]':datum.label=='c'?'p̄⁽³ʼ³⁾ₙ,₊ [DD]':'p̄⁽³ʼ³⁾ₙ,₊ [No DD]'"}}}},
   {"data":{"values":[{"P":3,"N":-0.3,"p":0.488,"t":"|\u0305+\u0305\u27e9\u0305"}]},"mark":{"type":"text","align":"left","baseline":"top","fontSize":9.5},"encoding":{"x":{"field":"N","type":"quantitative"},"y":{"field":"p","type":"quantitative"},"text":{"field":"t"}}}
  ]},
  {"data":{"values":[{"t":20},{"t":40},{"t":60},{"t":80}]},"mark":{"type":"tick","opacity":0},"encoding":{"x":{"field":"t","type":"quantitative","scale":{"domain":[4.4,83.6],"nice":false,"zero":false},"axis":{"orient":"top","values":[20,40,60,80],"title":"total time (μs)"}}}}
 ]},
 {"width":184,"height":132,"resolve":{"scale":{"x":"independent"}},"layer":[
  {"transform":[{"filter":"datum.P==4"}],"layer":[
   {"transform":[{"filter":"datum.s=='a'"}],"mark":{"type":"area","opacity":0.18,"interpolate":"monotone","clip":true,"color":"#3d9a56"},"encoding":{"x":{"field":"N","type":"quantitative","scale":{"domain":[-0.45,9.45],"nice":false,"zero":false},"axis":{"values":[1,3,5,7,9],"labels":false,"title":null}},"y":{"field":"lo","type":"quantitative","scale":{"domain":[0,0.5],"nice":false,"zero":false},"axis":{"values":[0,0.1,0.2,0.3,0.4,0.5],"labels":false,"title":null}},"y2":{"field":"hi"}}},
   {"transform":[{"filter":"datum.s=='b'"}],"mark":{"type":"area","opacity":0.18,"interpolate":"monotone","clip":true,"color":"#9c9c86"},"encoding":{"x":{"field":"N","type":"quantitative"},"y":{"field":"lo","type":"quantitative"},"y2":{"field":"hi"}}},
   {"transform":[{"filter":"datum.s=='c'"}],"mark":{"type":"area","opacity":0.18,"interpolate":"monotone","clip":true,"color":"#3560c4"},"encoding":{"x":{"field":"N","type":"quantitative"},"y":{"field":"lo","type":"quantitative"},"y2":{"field":"hi"}}},
   {"transform":[{"filter":"datum.s=='d'"}],"mark":{"type":"area","opacity":0.18,"interpolate":"monotone","clip":true,"color":"#8c8ca6"},"encoding":{"x":{"field":"N","type":"quantitative"},"y":{"field":"lo","type":"quantitative"},"y2":{"field":"hi"}}},
   {"transform":[{"filter":"datum.s=='a'"}],"mark":{"type":"line","strokeWidth":1,"interpolate":"monotone","color":"#3d9a56"},"encoding":{"x":{"field":"N","type":"quantitative"},"y":{"field":"f","type":"quantitative"}}},
   {"transform":[{"filter":"datum.s=='b'"}],"mark":{"type":"line","strokeWidth":1,"interpolate":"monotone","color":"#9c9c86","strokeDash":[3,2]},"encoding":{"x":{"field":"N","type":"quantitative"},"y":{"field":"f","type":"quantitative"}}},
   {"transform":[{"filter":"datum.s=='c'"}],"mark":{"type":"line","strokeWidth":1,"interpolate":"monotone","color":"#3560c4"},"encoding":{"x":{"field":"N","type":"quantitative"},"y":{"field":"f","type":"quantitative"}}},
   {"transform":[{"filter":"datum.s=='d'"}],"mark":{"type":"line","strokeWidth":1,"interpolate":"monotone","color":"#8c8ca6","strokeDash":[3,2]},"encoding":{"x":{"field":"N","type":"quantitative"},"y":{"field":"f","type":"quantitative"}}},
   {"mark":{"type":"point","filled":false,"size":20,"strokeWidth":1,"opacity":1},"encoding":{"x":{"field":"N","type":"quantitative"},"y":{"field":"p","type":"quantitative"},"color":{"field":"s","type":"nominal","scale":{"domain":["a","b","c","d"],"range":["#3d9a56","#9c9c86","#3560c4","#8c8ca6"]},"legend":{"title":null,"labelExpr":"datum.label=='a'?'p̄⁽⁵ʼ³⁾ₙ,₀ [DD]':datum.label=='b'?'p̄⁽⁵ʼ³⁾ₙ,₀ [No DD]':datum.label=='c'?'p̄⁽³ʼ³⁾ₙ,₀ [DD]':'p̄⁽³ʼ³⁾ₙ,₀ [No DD]'"}},"shape":{"field":"s","type":"nominal","scale":{"domain":["a","b","c","d"],"range":["circle","triangle-down","square","diamond"]},"legend":{"title":null,"labelExpr":"datum.label=='a'?'p̄⁽⁵ʼ³⁾ₙ,₀ [DD]':datum.label=='b'?'p̄⁽⁵ʼ³⁾ₙ,₀ [No DD]':datum.label=='c'?'p̄⁽³ʼ³⁾ₙ,₀ [DD]':'p̄⁽³ʼ³⁾ₙ,₀ [No DD]'"}}}},
   {"data":{"values":[{"P":4,"N":-0.3,"p":0.488,"t":"|\u0305\u0030\u0305\u27e9\u0305"}]},"mark":{"type":"text","align":"left","baseline":"top","fontSize":9.5},"encoding":{"x":{"field":"N","type":"quantitative"},"y":{"field":"p","type":"quantitative"},"text":{"field":"t"}}}
  ]},
  {"data":{"values":[{"t":20},{"t":40},{"t":60},{"t":80}]},"mark":{"type":"tick","opacity":0},"encoding":{"x":{"field":"t","type":"quantitative","scale":{"domain":[4.4,83.6],"nice":false,"zero":false},"axis":{"orient":"top","values":[20,40,60,80],"title":"total time (μs)"}}}}
 ]},
 {"width":184,"height":132,"transform":[{"filter":"datum.P==5"}],"layer":[
   {"transform":[{"filter":"datum.s=='a'"}],"mark":{"type":"area","opacity":0.18,"interpolate":"monotone","clip":true,"color":"#d9603b"},"encoding":{"x":{"field":"N","type":"quantitative","scale":{"domain":[-0.45,9.45],"nice":false,"zero":false},"axis":{"values":[1,3,5,7,9],"title":"quantum error correction cycles, N"}},"y":{"field":"lo","type":"quantitative","scale":{"domain":[0,0.5],"nice":false,"zero":false},"axis":{"values":[0,0.1,0.2,0.3,0.4,0.5],"format":".1f","title":"logical error probability"}},"y2":{"field":"hi"}}},
   {"transform":[{"filter":"datum.s=='b'"}],"mark":{"type":"area","opacity":0.18,"interpolate":"monotone","clip":true,"color":"#f9b26a"},"encoding":{"x":{"field":"N","type":"quantitative"},"y":{"field":"lo","type":"quantitative"},"y2":{"field":"hi"}}},
   {"transform":[{"filter":"datum.s=='c'"}],"mark":{"type":"area","opacity":0.18,"interpolate":"monotone","clip":true,"color":"#3560c4"},"encoding":{"x":{"field":"N","type":"quantitative"},"y":{"field":"lo","type":"quantitative"},"y2":{"field":"hi"}}},
   {"transform":[{"filter":"datum.s=='d'"}],"mark":{"type":"area","opacity":0.18,"interpolate":"monotone","clip":true,"color":"#8c8ca6"},"encoding":{"x":{"field":"N","type":"quantitative"},"y":{"field":"lo","type":"quantitative"},"y2":{"field":"hi"}}},
   {"transform":[{"filter":"datum.s=='a'"}],"mark":{"type":"line","strokeWidth":1,"interpolate":"monotone","color":"#d9603b"},"encoding":{"x":{"field":"N","type":"quantitative"},"y":{"field":"f","type":"quantitative"}}},
   {"transform":[{"filter":"datum.s=='b'"}],"mark":{"type":"line","strokeWidth":1,"interpolate":"monotone","color":"#f9b26a","strokeDash":[3,2]},"encoding":{"x":{"field":"N","type":"quantitative"},"y":{"field":"f","type":"quantitative"}}},
   {"transform":[{"filter":"datum.s=='c'"}],"mark":{"type":"line","strokeWidth":1,"interpolate":"monotone","color":"#3560c4"},"encoding":{"x":{"field":"N","type":"quantitative"},"y":{"field":"f","type":"quantitative"}}},
   {"transform":[{"filter":"datum.s=='d'"}],"mark":{"type":"line","strokeWidth":1,"interpolate":"monotone","color":"#8c8ca6","strokeDash":[3,2]},"encoding":{"x":{"field":"N","type":"quantitative"},"y":{"field":"f","type":"quantitative"}}},
   {"mark":{"type":"point","filled":false,"size":20,"strokeWidth":1,"opacity":1},"encoding":{"x":{"field":"N","type":"quantitative"},"y":{"field":"p","type":"quantitative"},"color":{"field":"s","type":"nominal","scale":{"domain":["a","b","c","d"],"range":["#d9603b","#f9b26a","#3560c4","#8c8ca6"]},"legend":{"title":null,"labelExpr":"datum.label=='a'?'p̄⁽³ʼ⁵⁾ₙ,₋ [DD]':datum.label=='b'?'p̄⁽³ʼ⁵⁾ₙ,₋ [No DD]':datum.label=='c'?'p̄⁽³ʼ³⁾ₙ,₋ [DD]':'p̄⁽³ʼ³⁾ₙ,₋ [No DD]'"}},"shape":{"field":"s","type":"nominal","scale":{"domain":["a","b","c","d"],"range":["circle","triangle-down","square","diamond"]},"legend":{"title":null,"labelExpr":"datum.label=='a'?'p̄⁽³ʼ⁵⁾ₙ,₋ [DD]':datum.label=='b'?'p̄⁽³ʼ⁵⁾ₙ,₋ [No DD]':datum.label=='c'?'p̄⁽³ʼ³⁾ₙ,₋ [DD]':'p̄⁽³ʼ³⁾ₙ,₋ [No DD]'"}}}},
   {"data":{"values":[{"P":5,"N":-0.3,"p":0.488,"t":"|\u0305\u2212\u0305\u27e9\u0305"}]},"mark":{"type":"text","align":"left","baseline":"top","fontSize":9.5},"encoding":{"x":{"field":"N","type":"quantitative"},"y":{"field":"p","type":"quantitative"},"text":{"field":"t"}}}
 ]},
 {"width":184,"height":132,"transform":[{"filter":"datum.P==6"}],"layer":[
   {"transform":[{"filter":"datum.s=='a'"}],"mark":{"type":"area","opacity":0.18,"interpolate":"monotone","clip":true,"color":"#d9603b"},"encoding":{"x":{"field":"N","type":"quantitative","scale":{"domain":[-0.45,9.45],"nice":false,"zero":false},"axis":{"values":[1,3,5,7,9],"title":"quantum error correction cycles, N"}},"y":{"field":"lo","type":"quantitative","scale":{"domain":[0,0.5],"nice":false,"zero":false},"axis":{"values":[0,0.1,0.2,0.3,0.4,0.5],"labels":false,"title":null}},"y2":{"field":"hi"}}},
   {"transform":[{"filter":"datum.s=='b'"}],"mark":{"type":"area","opacity":0.18,"interpolate":"monotone","clip":true,"color":"#f9b26a"},"encoding":{"x":{"field":"N","type":"quantitative"},"y":{"field":"lo","type":"quantitative"},"y2":{"field":"hi"}}},
   {"transform":[{"filter":"datum.s=='c'"}],"mark":{"type":"area","opacity":0.18,"interpolate":"monotone","clip":true,"color":"#3560c4"},"encoding":{"x":{"field":"N","type":"quantitative"},"y":{"field":"lo","type":"quantitative"},"y2":{"field":"hi"}}},
   {"transform":[{"filter":"datum.s=='d'"}],"mark":{"type":"area","opacity":0.18,"interpolate":"monotone","clip":true,"color":"#8c8ca6"},"encoding":{"x":{"field":"N","type":"quantitative"},"y":{"field":"lo","type":"quantitative"},"y2":{"field":"hi"}}},
   {"transform":[{"filter":"datum.s=='a'"}],"mark":{"type":"line","strokeWidth":1,"interpolate":"monotone","color":"#d9603b"},"encoding":{"x":{"field":"N","type":"quantitative"},"y":{"field":"f","type":"quantitative"}}},
   {"transform":[{"filter":"datum.s=='b'"}],"mark":{"type":"line","strokeWidth":1,"interpolate":"monotone","color":"#f9b26a","strokeDash":[3,2]},"encoding":{"x":{"field":"N","type":"quantitative"},"y":{"field":"f","type":"quantitative"}}},
   {"transform":[{"filter":"datum.s=='c'"}],"mark":{"type":"line","strokeWidth":1,"interpolate":"monotone","color":"#3560c4"},"encoding":{"x":{"field":"N","type":"quantitative"},"y":{"field":"f","type":"quantitative"}}},
   {"transform":[{"filter":"datum.s=='d'"}],"mark":{"type":"line","strokeWidth":1,"interpolate":"monotone","color":"#8c8ca6","strokeDash":[3,2]},"encoding":{"x":{"field":"N","type":"quantitative"},"y":{"field":"f","type":"quantitative"}}},
   {"mark":{"type":"point","filled":false,"size":20,"strokeWidth":1,"opacity":1},"encoding":{"x":{"field":"N","type":"quantitative"},"y":{"field":"p","type":"quantitative"},"color":{"field":"s","type":"nominal","scale":{"domain":["a","b","c","d"],"range":["#d9603b","#f9b26a","#3560c4","#8c8ca6"]},"legend":{"title":null,"labelExpr":"datum.label=='a'?'p̄⁽³ʼ⁵⁾ₙ,₁ [DD]':datum.label=='b'?'p̄⁽³ʼ⁵⁾ₙ,₁ [No DD]':datum.label=='c'?'p̄⁽³ʼ³⁾ₙ,₁ [DD]':'p̄⁽³ʼ³⁾ₙ,₁ [No DD]'"}},"shape":{"field":"s","type":"nominal","scale":{"domain":["a","b","c","d"],"range":["circle","triangle-down","square","diamond"]},"legend":{"title":null,"labelExpr":"datum.label=='a'?'p̄⁽³ʼ⁵⁾ₙ,₁ [DD]':datum.label=='b'?'p̄⁽³ʼ⁵⁾ₙ,₁ [No DD]':datum.label=='c'?'p̄⁽³ʼ³⁾ₙ,₁ [DD]':'p̄⁽³ʼ³⁾ₙ,₁ [No DD]'"}}}},
   {"data":{"values":[{"P":6,"N":-0.3,"p":0.488,"t":"|\u0305\u0031\u0305\u27e9\u0305"}]},"mark":{"type":"text","align":"left","baseline":"top","fontSize":9.5},"encoding":{"x":{"field":"N","type":"quantitative"},"y":{"field":"p","type":"quantitative"},"text":{"field":"t"}}}
 ]},
 {"width":184,"height":132,"transform":[{"filter":"datum.P==7"}],"layer":[
   {"transform":[{"filter":"datum.s=='a'"}],"mark":{"type":"area","opacity":0.18,"interpolate":"monotone","clip":true,"color":"#3d9a56"},"encoding":{"x":{"field":"N","type":"quantitative","scale":{"domain":[-0.45,9.45],"nice":false,"zero":false},"axis":{"values":[1,3,5,7,9],"title":"quantum error correction cycles, N"}},"y":{"field":"lo","type":"quantitative","scale":{"domain":[0,0.5],"nice":false,"zero":false},"axis":{"values":[0,0.1,0.2,0.3,0.4,0.5],"labels":false,"title":null}},"y2":{"field":"hi"}}},
   {"transform":[{"filter":"datum.s=='b'"}],"mark":{"type":"area","opacity":0.18,"interpolate":"monotone","clip":true,"color":"#9c9c86"},"encoding":{"x":{"field":"N","type":"quantitative"},"y":{"field":"lo","type":"quantitative"},"y2":{"field":"hi"}}},
   {"transform":[{"filter":"datum.s=='c'"}],"mark":{"type":"area","opacity":0.18,"interpolate":"monotone","clip":true,"color":"#3560c4"},"encoding":{"x":{"field":"N","type":"quantitative"},"y":{"field":"lo","type":"quantitative"},"y2":{"field":"hi"}}},
   {"transform":[{"filter":"datum.s=='d'"}],"mark":{"type":"area","opacity":0.18,"interpolate":"monotone","clip":true,"color":"#8c8ca6"},"encoding":{"x":{"field":"N","type":"quantitative"},"y":{"field":"lo","type":"quantitative"},"y2":{"field":"hi"}}},
   {"transform":[{"filter":"datum.s=='a'"}],"mark":{"type":"line","strokeWidth":1,"interpolate":"monotone","color":"#3d9a56"},"encoding":{"x":{"field":"N","type":"quantitative"},"y":{"field":"f","type":"quantitative"}}},
   {"transform":[{"filter":"datum.s=='b'"}],"mark":{"type":"line","strokeWidth":1,"interpolate":"monotone","color":"#9c9c86","strokeDash":[3,2]},"encoding":{"x":{"field":"N","type":"quantitative"},"y":{"field":"f","type":"quantitative"}}},
   {"transform":[{"filter":"datum.s=='c'"}],"mark":{"type":"line","strokeWidth":1,"interpolate":"monotone","color":"#3560c4"},"encoding":{"x":{"field":"N","type":"quantitative"},"y":{"field":"f","type":"quantitative"}}},
   {"transform":[{"filter":"datum.s=='d'"}],"mark":{"type":"line","strokeWidth":1,"interpolate":"monotone","color":"#8c8ca6","strokeDash":[3,2]},"encoding":{"x":{"field":"N","type":"quantitative"},"y":{"field":"f","type":"quantitative"}}},
   {"mark":{"type":"point","filled":false,"size":20,"strokeWidth":1,"opacity":1},"encoding":{"x":{"field":"N","type":"quantitative"},"y":{"field":"p","type":"quantitative"},"color":{"field":"s","type":"nominal","scale":{"domain":["a","b","c","d"],"range":["#3d9a56","#9c9c86","#3560c4","#8c8ca6"]},"legend":{"title":null,"labelExpr":"datum.label=='a'?'p̄⁽⁵ʼ³⁾ₙ,₋ [DD]':datum.label=='b'?'p̄⁽⁵ʼ³⁾ₙ,₋ [No DD]':datum.label=='c'?'p̄⁽³ʼ³⁾ₙ,₋ [DD]':'p̄⁽³ʼ³⁾ₙ,₋ [No DD]'"}},"shape":{"field":"s","type":"nominal","scale":{"domain":["a","b","c","d"],"range":["circle","triangle-down","square","diamond"]},"legend":{"title":null,"labelExpr":"datum.label=='a'?'p̄⁽⁵ʼ³⁾ₙ,₋ [DD]':datum.label=='b'?'p̄⁽⁵ʼ³⁾ₙ,₋ [No DD]':datum.label=='c'?'p̄⁽³ʼ³⁾ₙ,₋ [DD]':'p̄⁽³ʼ³⁾ₙ,₋ [No DD]'"}}}},
   {"data":{"values":[{"P":7,"N":-0.3,"p":0.488,"t":"|\u0305\u2212\u0305\u27e9\u0305"}]},"mark":{"type":"text","align":"left","baseline":"top","fontSize":9.5},"encoding":{"x":{"field":"N","type":"quantitative"},"y":{"field":"p","type":"quantitative"},"text":{"field":"t"}}}
 ]},
 {"width":184,"height":132,"transform":[{"filter":"datum.P==8"}],"layer":[
   {"transform":[{"filter":"datum.s=='a'"}],"mark":{"type":"area","opacity":0.18,"interpolate":"monotone","clip":true,"color":"#3d9a56"},"encoding":{"x":{"field":"N","type":"quantitative","scale":{"domain":[-0.45,9.45],"nice":false,"zero":false},"axis":{"values":[1,3,5,7,9],"title":"quantum error correction cycles, N"}},"y":{"field":"lo","type":"quantitative","scale":{"domain":[0,0.5],"nice":false,"zero":false},"axis":{"values":[0,0.1,0.2,0.3,0.4,0.5],"labels":false,"title":null}},"y2":{"field":"hi"}}},
   {"transform":[{"filter":"datum.s=='b'"}],"mark":{"type":"area","opacity":0.18,"interpolate":"monotone","clip":true,"color":"#9c9c86"},"encoding":{"x":{"field":"N","type":"quantitative"},"y":{"field":"lo","type":"quantitative"},"y2":{"field":"hi"}}},
   {"transform":[{"filter":"datum.s=='c'"}],"mark":{"type":"area","opacity":0.18,"interpolate":"monotone","clip":true,"color":"#3560c4"},"encoding":{"x":{"field":"N","type":"quantitative"},"y":{"field":"lo","type":"quantitative"},"y2":{"field":"hi"}}},
   {"transform":[{"filter":"datum.s=='d'"}],"mark":{"type":"area","opacity":0.18,"interpolate":"monotone","clip":true,"color":"#8c8ca6"},"encoding":{"x":{"field":"N","type":"quantitative"},"y":{"field":"lo","type":"quantitative"},"y2":{"field":"hi"}}},
   {"transform":[{"filter":"datum.s=='a'"}],"mark":{"type":"line","strokeWidth":1,"interpolate":"monotone","color":"#3d9a56"},"encoding":{"x":{"field":"N","type":"quantitative"},"y":{"field":"f","type":"quantitative"}}},
   {"transform":[{"filter":"datum.s=='b'"}],"mark":{"type":"line","strokeWidth":1,"interpolate":"monotone","color":"#9c9c86","strokeDash":[3,2]},"encoding":{"x":{"field":"N","type":"quantitative"},"y":{"field":"f","type":"quantitative"}}},
   {"transform":[{"filter":"datum.s=='c'"}],"mark":{"type":"line","strokeWidth":1,"interpolate":"monotone","color":"#3560c4"},"encoding":{"x":{"field":"N","type":"quantitative"},"y":{"field":"f","type":"quantitative"}}},
   {"transform":[{"filter":"datum.s=='d'"}],"mark":{"type":"line","strokeWidth":1,"interpolate":"monotone","color":"#8c8ca6","strokeDash":[3,2]},"encoding":{"x":{"field":"N","type":"quantitative"},"y":{"field":"f","type":"quantitative"}}},
   {"mark":{"type":"point","filled":false,"size":20,"strokeWidth":1,"opacity":1},"encoding":{"x":{"field":"N","type":"quantitative"},"y":{"field":"p","type":"quantitative"},"color":{"field":"s","type":"nominal","scale":{"domain":["a","b","c","d"],"range":["#3d9a56","#9c9c86","#3560c4","#8c8ca6"]},"legend":{"title":null,"labelExpr":"datum.label=='a'?'p̄⁽⁵ʼ³⁾ₙ,₁ [DD]':datum.label=='b'?'p̄⁽⁵ʼ³⁾ₙ,₁ [No DD]':datum.label=='c'?'p̄⁽³ʼ³⁾ₙ,₁ [DD]':'p̄⁽³ʼ³⁾ₙ,₁ [No DD]'"}},"shape":{"field":"s","type":"nominal","scale":{"domain":["a","b","c","d"],"range":["circle","triangle-down","square","diamond"]},"legend":{"title":null,"labelExpr":"datum.label=='a'?'p̄⁽⁵ʼ³⁾ₙ,₁ [DD]':datum.label=='b'?'p̄⁽⁵ʼ³⁾ₙ,₁ [No DD]':datum.label=='c'?'p̄⁽³ʼ³⁾ₙ,₁ [DD]':'p̄⁽³ʼ³⁾ₙ,₁ [No DD]'"}}}},
   {"data":{"values":[{"P":8,"N":-0.3,"p":0.488,"t":"|\u0305\u0031\u0305\u27e9\u0305"}]},"mark":{"type":"text","align":"left","baseline":"top","fontSize":9.5},"encoding":{"x":{"field":"N","type":"quantitative"},"y":{"field":"p","type":"quantitative"},"text":{"field":"t"}}}
 ]}
]
}
